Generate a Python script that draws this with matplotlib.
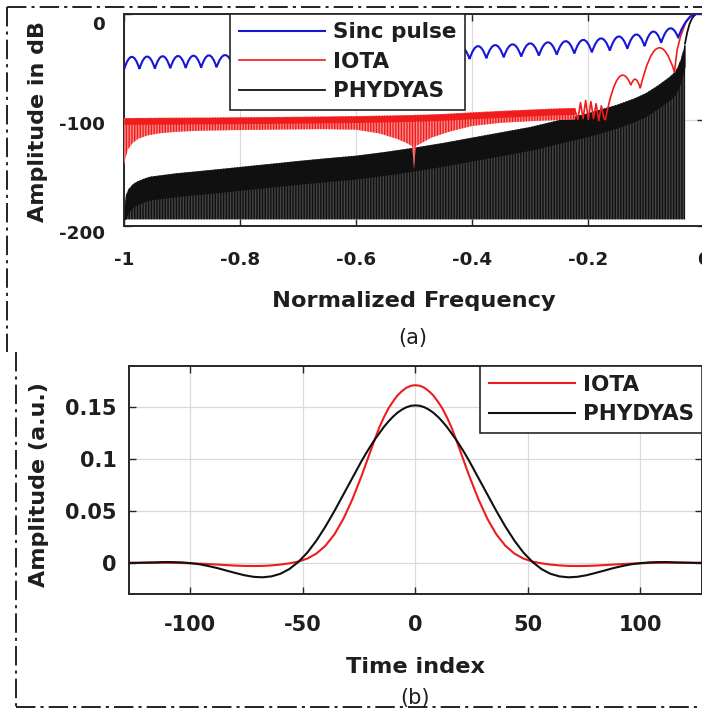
import numpy as np
import matplotlib
matplotlib.use("Agg")
import matplotlib.pyplot as plt
from matplotlib.path import Path
from matplotlib.patches import PathPatch
from matplotlib.lines import Line2D
from matplotlib.transforms import ScaledTranslation

plt.rcParams['font.family'] = ['DejaVu Sans']
plt.rcParams['font.weight'] = 'bold'
plt.rcParams['axes.labelweight'] = 'bold'
plt.rcParams['axes.unicode_minus'] = False
plt.rcParams['hatch.linewidth'] = 1.0

# ---------------- (a) spectra, normalized frequency vs dB ----------------
# Sinc pulse: side-lobe nulls (troughs) and lobe maxima
sinc_trough_freq = [-1.0, -0.9734, -0.9468, -0.9202, -0.8936, -0.8670, -0.8404, -0.8113,
                    -0.7822, -0.7532, -0.7241, -0.6950, -0.6659, -0.6368, -0.6078, -0.5787,
                    -0.5496, -0.5205, -0.4914, -0.4624, -0.4333, -0.4042, -0.3752, -0.3453,
                    -0.3151, -0.2847, -0.2539, -0.2235, -0.1933, -0.1624, -0.1321, -0.1024,
                    -0.0738, -0.0446]
sinc_trough_db = [-53.0, -52.2, -51.9, -51.6, -51.3, -51.0, -50.7, -50.4, -50.0, -49.6,
                  -49.2, -48.8, -48.3, -47.8, -47.3, -46.8, -46.2, -45.6, -45.0, -44.3,
                  -43.6, -42.8, -42.2, -41.3, -40.6, -39.7, -38.8, -37.7, -36.6, -35.0,
                  -33.2, -30.8, -27.5, -22.5]
sinc_peak_db = [-40.8, -40.5, -40.2, -40.0, -39.7, -39.4, -39.1, -38.8, -38.4, -38.0,
                -37.6, -37.2, -36.7, -36.2, -35.7, -35.2, -34.6, -34.0, -33.3, -32.6,
                -31.8, -30.7, -29.7, -29.0, -28.1, -27.1, -26.0, -24.8, -23.4, -21.6,
                -19.7, -17.0, -14.0]
sinc_main_freq = [-0.0446, -0.038, -0.031, -0.024, -0.017, -0.012, 0.0]
sinc_main_db = [-22.5, -14.0, -7.5, -3.2, -0.9, -0.2, 0.0]

# IOTA: dense side-lobe band (upper / lower envelope), wiggles, lobes, main lobe
iota_band_freq = [-1.0, -0.997, -0.993, -0.985, -0.975, -0.96, -0.94, -0.91, -0.87, -0.82,
                  -0.75, -0.66, -0.60, -0.56, -0.53, -0.515, -0.503, -0.5, -0.497, -0.485,
                  -0.47, -0.44, -0.40, -0.35, -0.30, -0.26, -0.222]
iota_band_upper_db = [-98.5, -98.5, -98.5, -98.5, -98.4, -98.4, -98.3, -98.2, -98.1, -97.9,
                      -97.6, -97.1, -96.7, -96.3, -96.0, -95.8, -95.7, -95.6, -95.5, -95.4,
                      -95.1, -94.4, -93.2, -91.8, -90.6, -89.6, -89.0]
iota_band_lower_db = [-143.0, -135.0, -128.0, -122.0, -118.0, -115.0, -113.0, -111.5, -110.5,
                      -110.0, -109.5, -109.0, -109.5, -113.0, -118.0, -121.5, -125.0, -147.0,
                      -125.0, -121.5, -117.0, -111.5, -106.0, -103.0, -101.5, -100.5, -100.0]
iota_wiggle_freq = [-0.222, -0.2175, -0.213, -0.2085, -0.204, -0.1995, -0.195, -0.1905,
                    -0.186, -0.1815, -0.177, -0.1725, -0.170]
iota_wiggle_db = [-92, -100, -84, -99, -82, -100, -83, -99, -85, -101, -87, -99, -100]
iota_lobe_trough_freq = [-0.170, -0.126, -0.110, -0.051]
iota_lobe_trough_db = [-100.0, -67.5, -70.5, -55.0]
iota_lobe_peak_db = [-61.0, -62.0, -32.8]
iota_main_freq = [-0.051, -0.0463, -0.0407, -0.0321, -0.0235, -0.0154, -0.010, 0.0]
iota_main_db = [-55.0, -34.4, -21.9, -9.3, -2.2, -0.3, 0.0, 0.0]

# PHYDYAS: upper envelope of the dense side lobes, then main lobe
phydyas_env_freq = [-1.0, -0.997, -0.993, -0.985, -0.978, -0.965, -0.955, -0.93, -0.91, -0.87,
                    -0.824, -0.78, -0.738, -0.70, -0.652, -0.60, -0.55, -0.50, -0.45, -0.40,
                    -0.35, -0.30, -0.25, -0.20, -0.15, -0.12, -0.10, -0.08, -0.06, -0.05,
                    -0.045, -0.04, -0.036, -0.0326]
phydyas_env_db = [-186, -172, -166, -161, -158.5, -155.5, -153.8, -152, -150.6, -148.5,
                  -146, -143.5, -141.2, -139, -136.5, -134, -130.5, -126.5, -122, -117,
                  -112, -107, -100.5, -94, -86, -80, -75, -68, -60, -55,
                  -50, -43, -35, -28]
phydyas_floor_db = -194
phydyas_main_freq = [-0.0326, -0.029, -0.025, -0.021, -0.017, -0.013, -0.010, 0.0]
phydyas_main_db = [-28, -18, -10, -5, -2, -0.5, 0.0, 0.0]

freq_ticks = [-1, -0.8, -0.6, -0.4, -0.2, 0]
freq_tick_labels = ['-1', '-0.8', '-0.6', '-0.4', '-0.2', '0']
db_ticks = [-200, -100, 0]

# ---------------- (b) impulse responses ----------------
time_index = [-128, -124, -120, -116, -112, -108, -104, -100, -96, -92, -88, -84, -80,
              -76, -72, -68, -64, -60, -56, -52, -48, -44, -40, -36, -32, -28, -24, -22,
              -20, -18, -16, -14, -12, -10, -8, -6, -4, -2, 0, 2, 4, 6, 8, 10, 12, 14, 16,
              18, 20, 22, 24, 28, 32, 36, 40, 44, 48, 52, 56, 60, 64, 68, 72, 76, 80, 84,
              88, 92, 96, 100, 104, 108, 112, 116, 120, 124, 128]
iota_time = [0.0000, 0.0000, 0.0001, 0.0001, 0.0002, 0.0001, -0.0001, -0.0004, -0.0007,
             -0.0011, -0.0016, -0.0021, -0.0026, -0.0029, -0.0030, -0.0029, -0.0024,
             -0.0016, -0.0004, 0.0013, 0.0042, 0.0090, 0.0165, 0.0275, 0.0425, 0.0615,
             0.0835, 0.0955, 0.1075, 0.1195, 0.1310, 0.1405, 0.1490, 0.1556, 0.1615,
             0.1657, 0.1690, 0.1709,
             0.1715,
             0.1709, 0.1690, 0.1657, 0.1615, 0.1556, 0.1490, 0.1405, 0.1310, 0.1195,
             0.1075, 0.0955, 0.0835, 0.0615, 0.0425, 0.0275, 0.0165, 0.0090, 0.0042,
             0.0013, -0.0004, -0.0016, -0.0024, -0.0029, -0.0030, -0.0029, -0.0026,
             -0.0021, -0.0016, -0.0011, -0.0007, -0.0004, -0.0001, 0.0001, 0.0002, 0.0001,
             0.0001, 0.0000, 0.0000]
phydyas_time = [0.0000, 0.0001, 0.0003, 0.0005, 0.0008, 0.0008, 0.0005, -0.0002, -0.0013,
                -0.0030, -0.0050, -0.0074, -0.0097, -0.0119, -0.0134, -0.0139, -0.0130,
                -0.0105, -0.0059, 0.0010, 0.0100, 0.0215, 0.0350, 0.0500, 0.0660, 0.0820,
                0.0980, 0.1055, 0.1125, 0.1192, 0.1252, 0.1312, 0.1364, 0.1410, 0.1449,
                0.1479, 0.1502, 0.1516,
                0.1520,
                0.1516, 0.1502, 0.1479, 0.1449, 0.1410, 0.1364, 0.1312, 0.1252, 0.1192,
                0.1125, 0.1055, 0.0980, 0.0820, 0.0660, 0.0500, 0.0350, 0.0215, 0.0100,
                0.0010, -0.0059, -0.0105, -0.0130, -0.0139, -0.0134, -0.0119, -0.0097,
                -0.0074, -0.0050, -0.0030, -0.0013, -0.0002, 0.0005, 0.0008, 0.0008,
                0.0005, 0.0003, 0.0001, 0.0000]
time_ticks = [-100, -50, 0, 50, 100]
amp_ticks = [0, 0.05, 0.1, 0.15]
amp_tick_labels = ['0', '0.05', '0.1', '0.15']

# ---------------- figure ----------------
W, H = 702, 715
fig = plt.figure(figsize=(W / 100, H / 100), dpi=100)
fig.patch.set_facecolor('white')


def px_rect(left, top, right, bottom):
    return [left / W, 1 - bottom / H, (right - left) / W, (bottom - top) / H]


ax1 = fig.add_axes(px_rect(124, 13.5, 704, 225.7))
ax2 = fig.add_axes(px_rect(128.5, 366, 702.3, 594))

TXT = '#1e1e1e'


def style(ax, size, xpad, ypad):
    for s in ax.spines.values():
        s.set_color('#262626')
        s.set_linewidth(1.4)
    ax.tick_params(direction='in', top=True, right=True, length=5, width=1.0,
                   color='#262626', labelcolor=TXT, labelsize=size)
    ax.tick_params(axis='x', pad=xpad)
    ax.tick_params(axis='y', pad=ypad)
    ax.grid(True, color='#dadada', linewidth=0.9)
    ax.set_axisbelow(True)


def lobe_path(tf, tdb, pdb):
    verts = [(tf[0], tdb[0])]
    codes = [Path.MOVETO]
    for i, p in enumerate(pdb):
        xm = 0.5 * (tf[i] + tf[i + 1])
        c = 2 * p - 0.5 * (tdb[i] + tdb[i + 1])
        verts += [(xm, c), (tf[i + 1], tdb[i + 1])]
        codes += [Path.CURVE3, Path.CURVE3]
    return Path(verts, codes)


BLUE = '#1616d6'
RED = '#ee1c1c'
BLACK = '#101010'

# ----- panel (a) -----
style(ax1, 13.2, 18, 14)
ax1.set_xlim(-1, 0)
ax1.set_ylim(-200, 0)
ax1.set_xticks(freq_ticks)
ax1.set_xticklabels(freq_tick_labels)
ax1.set_yticks(db_ticks)

env = np.array(phydyas_env_db, dtype=float)
ax1.fill_between(phydyas_env_freq, env, phydyas_floor_db, facecolor='#444444',
                 edgecolor=BLACK, hatch='||||||', linewidth=0, zorder=2)
ax1.fill_between(phydyas_env_freq, env, np.maximum(env - 22, phydyas_floor_db),
                 color=BLACK, linewidth=0, zorder=2.1)
hp, = ax1.plot(phydyas_main_freq, phydyas_main_db, color=BLACK, lw=1.3,
               label='PHYDYAS', zorder=2.2)

up = np.array(iota_band_upper_db, dtype=float)
lo = np.array(iota_band_lower_db, dtype=float)
ax1.fill_between(iota_band_freq, up, lo, facecolor='#ff8a8a', edgecolor=RED,
                 hatch='||||||', linewidth=0, zorder=3)
ax1.fill_between(iota_band_freq, up, np.maximum(up - 6, lo), color=RED, linewidth=0,
                 zorder=3.1)
ax1.plot(iota_wiggle_freq, iota_wiggle_db, color=RED, lw=1.2, zorder=3.2)
ax1.add_patch(PathPatch(lobe_path(iota_lobe_trough_freq, iota_lobe_trough_db,
                                  iota_lobe_peak_db),
                        fill=False, edgecolor=RED, lw=1.2, zorder=3.2))
hi, = ax1.plot(iota_main_freq, iota_main_db, color=RED, lw=1.2, label='IOTA', zorder=3.2)

ax1.add_patch(PathPatch(lobe_path(sinc_trough_freq, sinc_trough_db, sinc_peak_db),
                        fill=False, edgecolor=BLUE, lw=1.5, zorder=4))
hs, = ax1.plot(sinc_main_freq, sinc_main_db, color=BLUE, lw=1.5, label='Sinc pulse',
               zorder=4)

leg1 = ax1.legend(handles=[hs, hi, hp], loc='upper left', bbox_to_anchor=(0.1828, 1.0),
                  borderaxespad=0, fontsize=15.5, handlelength=4.0, handletextpad=0.4,
                  frameon=True, fancybox=False, framealpha=1, edgecolor='#262626',
                  borderpad=0.4, labelspacing=0.45)
leg1.get_frame().set_linewidth(1.2)
leg1.set_zorder(10)
for t in leg1.get_texts():
    t.set_color(TXT)

ax1.set_xlabel('Normalized Frequency', fontsize=16.2, color=TXT, fontweight='bold')
ax1.xaxis.set_label_coords(0.5, (225.7 - 306.7) / 212.2)
ax1.xaxis.label.set_va('baseline')
ax1.set_ylabel('Amplitude in dB', fontsize=16.0, color=TXT, fontweight='bold')
ax1.yaxis.set_label_coords((38.5 - 124) / 580, (225.7 - 121.7) / 212.2)
ax1.yaxis.label.set_va('center')

# shift the y tick labels slightly down like in the reference
for lab, dy in zip(ax1.get_yticklabels(), [6, 3, 10]):
    lab.set_transform(lab.get_transform() + ScaledTranslation(0, -dy / 100, fig.dpi_scale_trans))

# ----- panel (b) -----
style(ax2, 15.0, 14.8, 8.5)
ax2.set_xlim(-127.5, 127.5)
ax2.set_ylim(-0.03, 0.19)
ax2.set_xticks(time_ticks)
ax2.set_yticks(amp_ticks)
ax2.set_yticklabels(amp_tick_labels)
ax2.plot(time_index, iota_time, color=RED, lw=1.5, label='IOTA', zorder=3)
ax2.plot(time_index, phydyas_time, color=BLACK, lw=1.5, label='PHYDYAS', zorder=3)
leg2 = ax2.legend(loc='upper right', bbox_to_anchor=(1.0, 1.0), borderaxespad=0,
                  fontsize=15.5, handlelength=4.0, handletextpad=0.35, frameon=True,
                  fancybox=False, framealpha=1, edgecolor='#262626', borderpad=0.4,
                  labelspacing=0.45)
leg2.get_frame().set_linewidth(1.2)
for t in leg2.get_texts():
    t.set_color(TXT)

ax2.set_xlabel('Time index', fontsize=16.2, color=TXT, fontweight='bold')
ax2.xaxis.set_label_coords((416 - 128.5) / 573.8, (594 - 673) / 228)
ax2.xaxis.label.set_va('baseline')
ax2.set_ylabel('Amplitude (a.u.)', fontsize=16.0, color=TXT, fontweight='bold')
ax2.yaxis.set_label_coords((39 - 128.5) / 573.8, (594 - 485) / 228)
ax2.yaxis.label.set_va('center')

# panel captions
fig.text(413 / W, 1 - 337.5 / H, '(a)', ha='center', va='center', fontsize=15,
         fontweight='normal', color=TXT)
fig.text(415.5 / W, 1 - 698 / H, '(b)', ha='center', va='center', fontsize=15,
         fontweight='normal', color=TXT)

# dash-dot panel borders
def border(x0, y0, x1, y1):
    fig.add_artist(Line2D([x0 / W, x1 / W], [1 - y0 / H, 1 - y1 / H],
                          transform=fig.transFigure, color='#222222', lw=1.4,
                          dashes=(10, 2.6, 1.6, 2.6)))

border(7, 7, 702, 7)
border(7, 7, 7, 352)
border(16, 352, 16, 707)
border(16, 707, 702, 707)

fig.savefig('out.png', dpi=100, facecolor='white')
